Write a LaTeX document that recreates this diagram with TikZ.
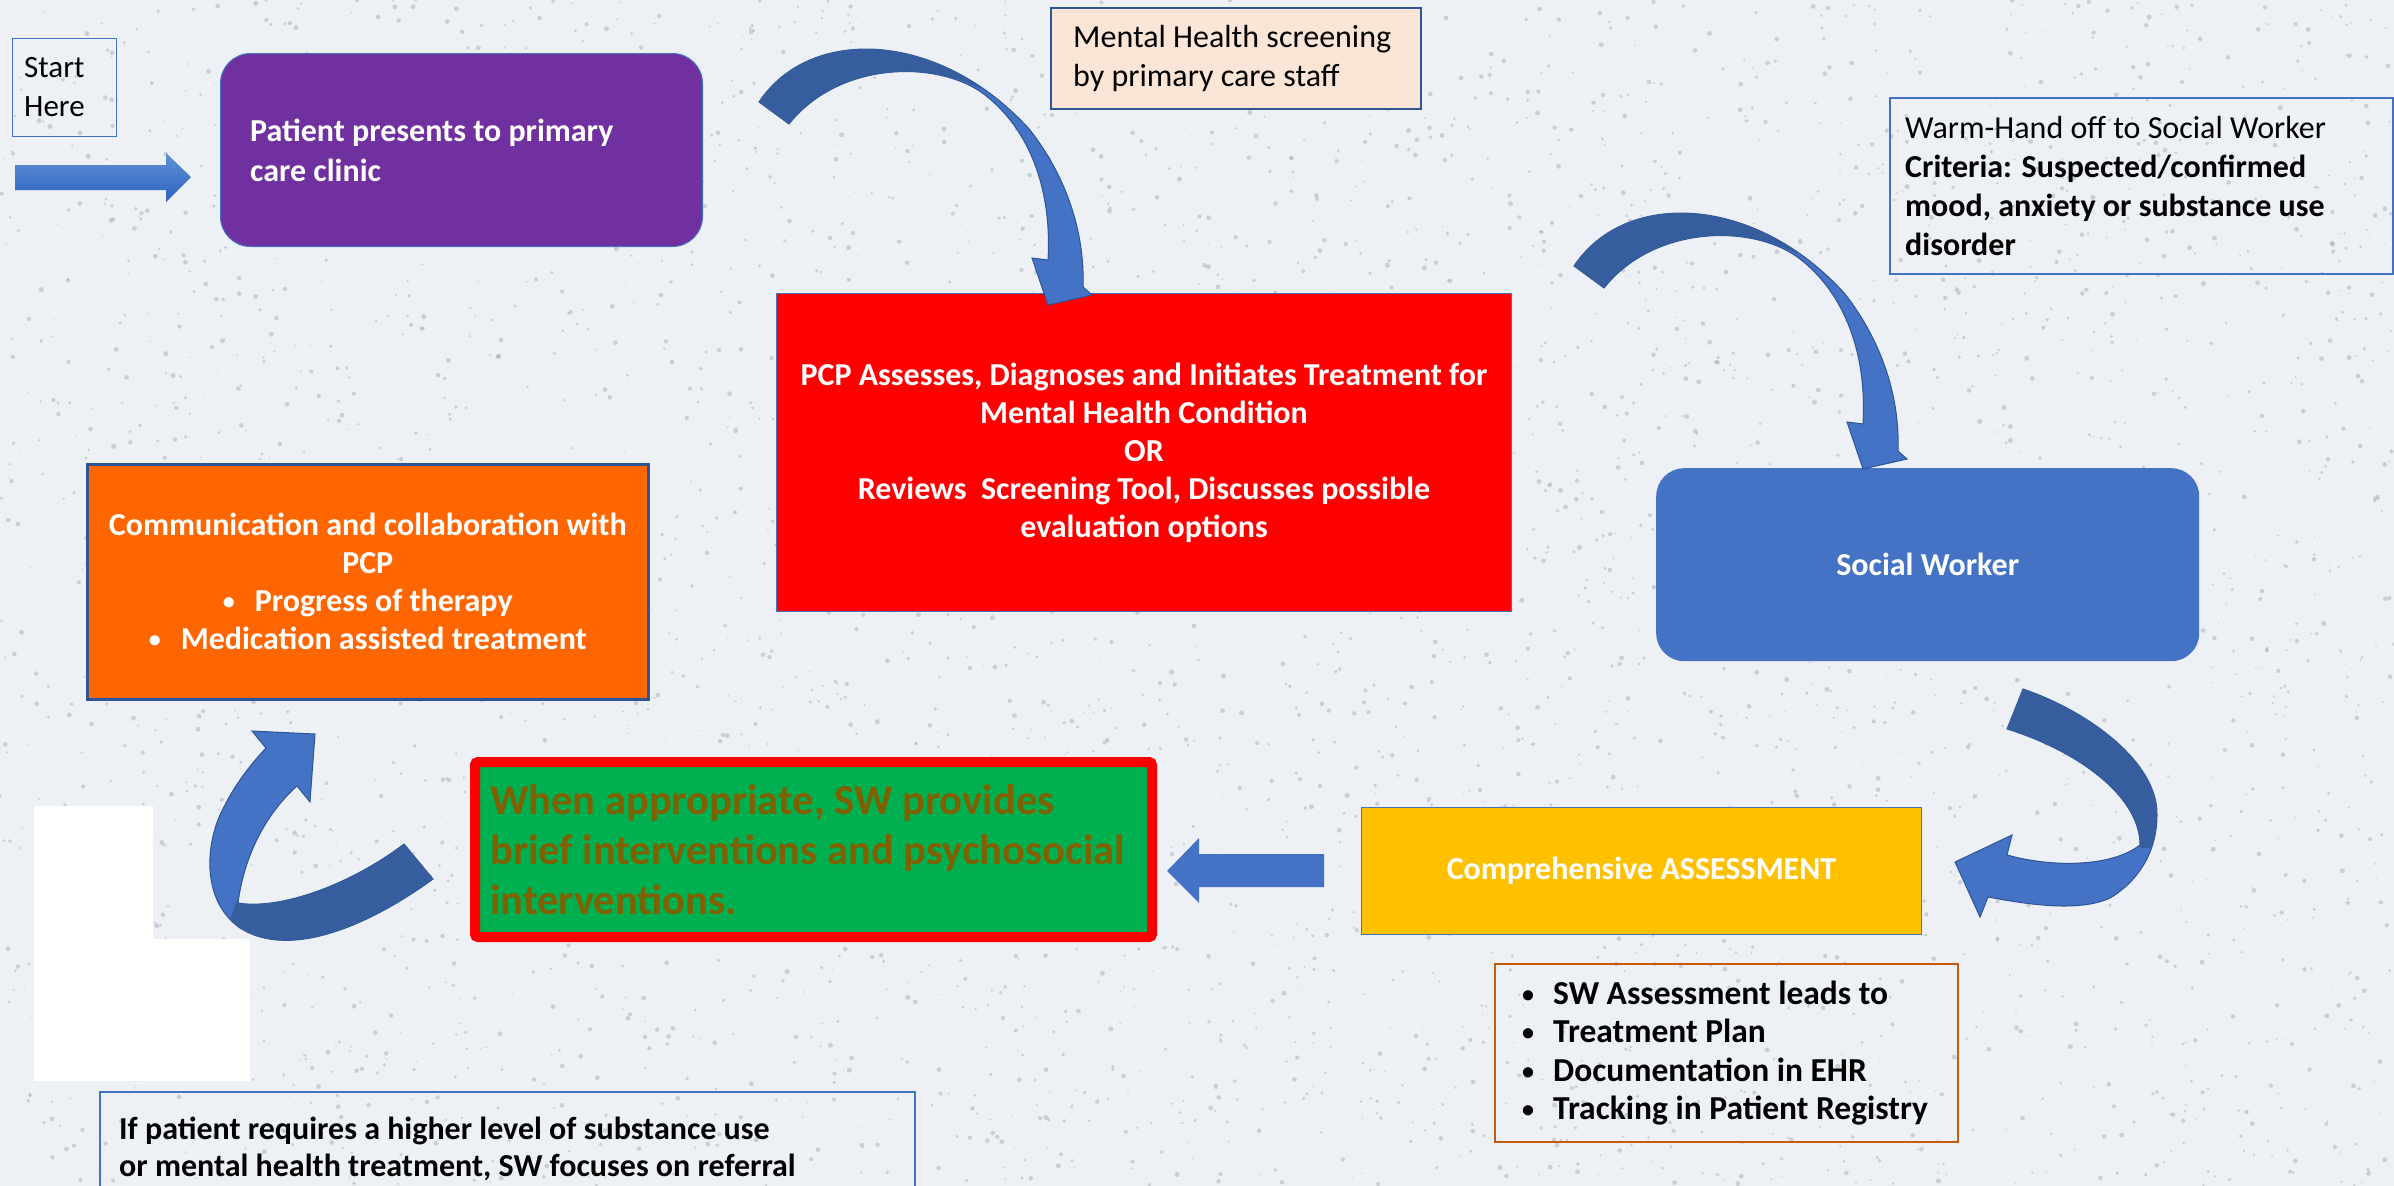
\documentclass[tikz,border=0pt]{standalone}
\usepackage{fontspec}
\setmainfont{Carlito}
\definecolor{bgcol}{RGB}{237,240,245}
\definecolor{speck}{RGB}{150,155,165}
\definecolor{purp}{RGB}{112,48,160}
\definecolor{peach}{RGB}{251,229,214}
\definecolor{bluebox}{RGB}{68,114,196}
\definecolor{edgeblue}{RGB}{68,114,196}
\definecolor{darkedge}{RGB}{47,85,151}
\definecolor{arrowlight}{RGB}{68,114,196}
\definecolor{arrowdark}{RGB}{54,94,158}
\definecolor{amber}{RGB}{255,192,0}
\definecolor{grn}{RGB}{0,176,80}
\definecolor{olivetext}{RGB}{128,96,0}
\definecolor{orng}{RGB}{255,102,0}
\definecolor{rust}{RGB}{197,90,17}
\newcommand\smallbullet{\raisebox{2pt}{\fontsize{24}{24}\selectfont\textbullet}}
\newcommand\bendshape[1]{\fill[#1] (759,102) .. controls (810,25) and (940,30) .. (1030,130) .. controls (1065,175) and (1085,230) .. (1083,287) -- (1092,295) -- (1048,305) -- (1032,258) -- (1048,260) .. controls (1052,190) and (1030,130) .. (985,95) .. controls (940,60) and (840,60) .. (789,124) -- cycle;}
\newcommand\hookshape[1]{\fill[#1] (2023,689) .. controls (2088,711) and (2158,762) .. (2157,815) .. controls (2157,850) and (2140,880) .. (2110,898) .. controls (2080,912) and (2030,905) .. (1988,897) -- (1980,917) -- (1955,862) -- (2012,835) -- (2007,855) .. controls (2050,867) and (2110,868) .. (2140,845) .. controls (2140,795) and (2075,750) .. (2007,729) -- cycle;}
\newcommand\uphookshape[1]{\fill[#1] (433,879) .. controls (370,925) and (290,960) .. (240,928) .. controls (200,900) and (205,840) .. (225,805) .. controls (235,785) and (250,765) .. (266,748) -- (252,731) -- (315,734) -- (310,802) -- (297,786) .. controls (270,810) and (245,850) .. (238,903) .. controls (280,910) and (350,885) .. (404,844) -- cycle;}
\tikzset{
  lbl/.style={font=\fontsize{32}{39}\selectfont, inner sep=0pt},
  blbl/.style={font=\fontsize{32}{38}\selectfont\bfseries, inner sep=0pt},
  boxshape/.style={rectangle, anchor=north west, inner sep=0pt},
  bendarrow/.pic={
    \bendshape{arrowlight, draw=darkedge, line width=1pt}
    \begin{scope}
      \clip (700,-10) -- (1040,-10) -- (1010,100) -- (955,78) -- (800,200) -- (700,200) -- cycle;
      \bendshape{arrowdark}
    \end{scope}
  }
}
\begin{document}
\begin{tikzpicture}[x=1pt, y=-1pt]
\useasboundingbox (0,0) rectangle (2394,1186);
\fill[bgcol] (0,0) rectangle (2394,1186);
\pgfmathsetseed{4242}
\foreach \i in {1,...,4200}{
  \pgfmathsetmacro\px{rnd*2394}
  \pgfmathsetmacro\py{rnd*1186}
  \pgfmathsetmacro\pr{0.7+rnd*1.8}
  \fill[speck, opacity=0.4] (\px,\py) circle[radius=\pr pt];
}

% Start
\node[boxshape, draw=edgeblue, line width=1pt, minimum width=104pt, minimum height=98pt] (start) at (12,38) {};
\node[lbl, font=\fontsize{31}{39}\selectfont, anchor=west, align=left] (starttxt) at ([xshift=12pt]start.west) {Start\\Here};
\shade[top color={rgb,255:red,96;green,145;blue,216}, bottom color={rgb,255:red,46;green,98;blue,190}]
  (15,165) -- (166,165) -- (166,153) -- (191,177) -- (166,202) -- (166,190) -- (15,190) -- cycle;

% Patient
\node[boxshape, fill=purp, draw=edgeblue, line width=1pt, rounded corners=30pt, minimum width=482pt, minimum height=193pt] (patient) at (220,53) {};
\node[blbl, font=\fontsize{32}{40}\selectfont\bfseries, text=white, anchor=west, align=left] (patienttxt) at ([xshift=30pt]patient.west) {Patient presents to primary\\care clinic};

% Screening note
\node[boxshape, fill=peach, draw=darkedge, line width=1.5pt, minimum width=370pt, minimum height=101pt] (screen) at (1050,7) {};
\node[lbl, anchor=west, align=left] (screentxt) at ([xshift=23pt]screen.west) {Mental Health screening\\by primary care staff};

% PCP
\node[boxshape, fill=red, draw=edgeblue, line width=1pt, minimum width=735pt, minimum height=318pt, text=white, blbl, align=center] (pcp) at (776,293)
  {PCP Assesses, Diagnoses and Initiates Treatment for\\Mental Health Condition\\OR\\Reviews\ \ Screening Tool, Discusses possible\\evaluation options};

% Warm hand-off note
\node[boxshape, draw=edgeblue, line width=1.5pt, minimum width=503pt, minimum height=176pt] (warm) at (1889,97) {};
\node[lbl, anchor=west, align=left] (warmtxt) at ([xshift=16pt]warm.west) {Warm-Hand off to Social Worker\\\textbf{Criteria: Suspected/confirmed}\\\textbf{mood, anxiety or substance use}\\\textbf{disorder}};

% Social worker
\node[boxshape, fill=bluebox, rounded corners=28pt, minimum width=543pt, minimum height=193pt, text=white, blbl] (sw) at (1656,468) {Social Worker};

% Assessment
\node[boxshape, fill=amber, draw=edgeblue, line width=1pt, minimum width=560pt, minimum height=127pt, text=white, blbl] (assess) at (1361,807) {Comprehensive ASSESSMENT};

% Plan note
\node[boxshape, draw=rust, line width=2pt, minimum width=463pt, minimum height=178pt] (plan) at (1494,963) {};
\node[blbl, font=\fontsize{33.5}{38.5}\selectfont\bfseries, anchor=west, align=left] (plantxt) at ([xshift=28pt]plan.west)
  {\makebox[31pt][l]{\smallbullet}SW Assessment leads to\\\makebox[31pt][l]{\smallbullet}Treatment Plan\\\makebox[31pt][l]{\smallbullet}Documentation in EHR\\\makebox[31pt][l]{\smallbullet}Tracking in Patient Registry};

% Brief interventions
\node[boxshape, fill=grn, draw=red, line width=10pt, rounded corners=3pt, minimum width=677pt, minimum height=175pt] (brief) at (470,757) {};
\node[anchor=west, align=left, inner sep=0pt, text=olivetext, font=\fontsize{42.5}{50}\selectfont\bfseries] (brieftxt) at ([xshift=20pt]brief.west)
  {When appropriate, SW provides\\brief interventions and psychosocial\\interventions.};

% Communication
\node[boxshape, fill=orng, draw=darkedge, line width=2.5pt, minimum width=561pt, minimum height=235pt, text=white, blbl, align=center] (comm) at (86,463)
  {Communication and collaboration with\\PCP\\\makebox[32pt][l]{\smallbullet}Progress of therapy\\\makebox[32pt][l]{\smallbullet}Medication assisted treatment};

% white patches
\fill[white] (34,806) rectangle (153,940);
\fill[white] (34,939) rectangle (250,1081);

% Referral note
\draw[edgeblue, line width=1.2pt] (100,1200) -- (100,1092) -- (915,1092) -- (915,1200);
\node[blbl, font=\fontsize{32}{37}\selectfont\bfseries, anchor=west, align=left] (refertxt) at (119,1149)
  {If patient requires a higher level of substance use\\or mental health treatment, SW focuses on referral};

% Curved arrows
\pic at (0,0) {bendarrow};
\pic at (815,164) {bendarrow};

\hookshape{arrowlight, draw=darkedge, line width=1pt}
\begin{scope}
  \clip (1990,600) -- (2250,600) -- (2250,845) -- (2142,848) -- (2120,830) -- (1990,780) -- cycle;
  \hookshape{arrowdark}
\end{scope}

\uphookshape{arrowlight, draw=darkedge, line width=1pt}
\begin{scope}
  \clip (238,898) -- (460,780) -- (460,1000) -- (240,1000) -- (225,932) -- cycle;
  \uphookshape{arrowdark}
\end{scope}

% Straight arrow assessment -> brief
\fill[arrowlight] (1324,854) -- (1199,854) -- (1199,838) -- (1167,871) -- (1199,903) -- (1199,887) -- (1324,887) -- cycle;
\end{tikzpicture}
\end{document}
